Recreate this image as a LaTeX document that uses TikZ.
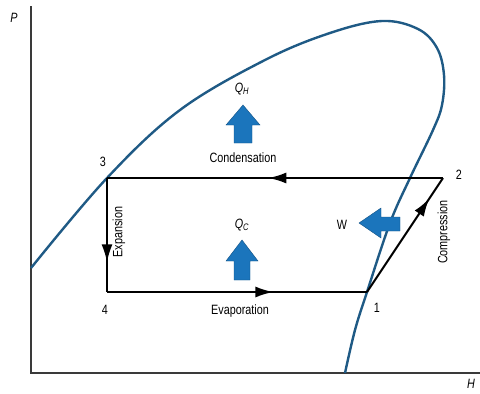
\documentclass[tikz,border=0pt]{standalone}
\usepackage{fontspec}
\setmainfont[FakeStretch=0.8]{Liberation Sans}
\usetikzlibrary{arrows.meta,decorations.markings}
\definecolor{curveblue}{HTML}{1F5A85}
\definecolor{fillblue}{HTML}{1B75BC}
\definecolor{axisgray}{HTML}{3A3A3A}
\tikzset{
  lbl/.style={font=\fontsize{13.5}{15}\selectfont, inner sep=0pt},
  axis/.style={draw=axisgray, line width=1.4pt},
  cycle/.style={draw=black, line width=2pt},
  midarrow/.style={postaction={decorate}, decoration={markings,
     mark=at position #1 with {\arrow{Latex[length=18pt,width=11pt]}}}},
  fatarrow/.style={fill=fillblue, draw=fillblue!70!black, line width=0.4pt},
}
\begin{document}
\begin{tikzpicture}[x=1pt,y=-1pt]
\useasboundingbox (0,0) rectangle (480,394);
% axes
\coordinate (o) at (31,373);
\coordinate (ytop) at (31,6);
\coordinate (xend) at (480,373);
\draw[axis] (ytop) -- (o) -- (xend);
\node[lbl] (P) at (14,18) {\textit{P}};
\node[lbl] (H) at (471,384) {\textit{H}};
% saturation dome
\draw[curveblue, line width=2.4pt] plot[smooth, tension=0.6] coordinates {
 (31,268) (107,178) (180,110) (265,60) (330,33) (382,21) (418,29) (437,48)
 (444,75) (442,105) (433,130) (410,178) (390,223) (367,292) (355,330) (345,373)};
% cycle points
\coordinate (p1) at (367,292);
\coordinate (p2) at (443,178);
\coordinate (p3) at (107,178);
\coordinate (p4) at (107,292);
\draw[cycle, midarrow=0.52] (p2) -- (p3);
\draw[cycle, midarrow=0.74] (p3) -- (p4);
\draw[cycle, midarrow=0.64] (p4) -- (p1);
\draw[cycle, midarrow=0.82] (p1) -- (p2);
% point labels
\node[lbl] (n3) at (103,162) {3};
\node[lbl] (n2) at (459,175) {2};
\node[lbl] (n4) at (105,310) {4};
\node[lbl] (n1) at (377,308) {1};
% process labels
\node[lbl] (cond) at (243,158) {Condensation};
\node[lbl] (evap) at (240,311) {Evaporation};
\node[lbl, rotate=90] (exp) at (119,232) {Expansion};
\node[lbl, rotate=90] (comp) at (444,232) {Compression};
\node[lbl] (qh) at (242,89) {\textit{Q}\textsubscript{\textit{H}}};
\node[lbl] (qc) at (242,225) {\textit{Q}\textsubscript{\textit{C}}};
\node[lbl] (w) at (342,225) {W};
% block arrows
\draw[fatarrow] (243,105) -- (260,125) -- (252,125) -- (252,143) -- (234,143) -- (234,125) -- (226,125) -- cycle;
\draw[fatarrow] (242,240) -- (258,261) -- (250,261) -- (250,280) -- (234,280) -- (234,261) -- (226,261) -- cycle;
\draw[fatarrow] (359,223) -- (381,208) -- (381,217) -- (400,217) -- (400,231) -- (381,231) -- (381,238) -- cycle;
\end{tikzpicture}
\end{document}
